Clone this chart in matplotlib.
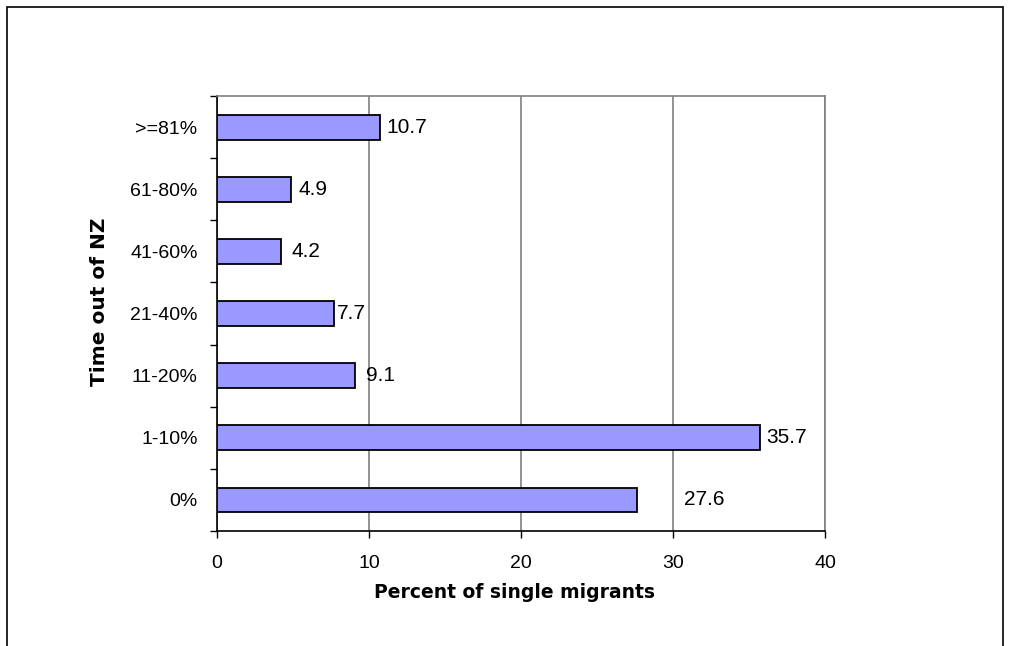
import matplotlib.pyplot as plt
from matplotlib.patches import Rectangle

categories = ["0%", "1-10%", "11-20%", "21-40%", "41-60%", "61-80%", ">=81%"]
percent_single = [27.6, 35.7, 9.1, 7.7, 4.2, 4.9, 10.7]
# extra gap (points) between bar end and its value label, as in the original
label_gap = [34, 5, 8, 2, 8, 5, 5]

plt.rcParams["font.family"] = ["Liberation Sans", "DejaVu Sans"]

fig = plt.figure(figsize=(10.1, 6.46), dpi=100)
ax = fig.add_axes([217 / 1010, 1 - 531 / 646, (825 - 217) / 1010, (531 - 96) / 646])

pos = list(range(len(categories)))
ax.barh(pos, percent_single, height=0.4, color="#9999FF", edgecolor="black", linewidth=1.3, zorder=3)

for p, v, g in zip(pos, percent_single, label_gap):
    ax.annotate(f"{v:.1f}", (v, p), xytext=(g, 0), textcoords="offset points",
                va="center", ha="left", fontsize=15)

ax.set_xlim(0, 40)
ax.set_ylim(-0.5, len(categories) - 0.5)
ax.set_xticks([0, 10, 20, 30, 40])
ax.tick_params(axis="x", labelsize=14, length=5, width=1, pad=12, direction="out")
ax.set_yticks(pos)
ax.set_yticklabels(categories)
ax.tick_params(axis="y", which="major", length=0, labelsize=14, pad=14)
ax.set_yticks([p - 0.5 for p in pos] + [len(pos) - 0.5], minor=True)
ax.tick_params(axis="y", which="minor", length=5, width=1, direction="out")

ax.grid(axis="x", color="#808080", linewidth=1.2, zorder=0)
for s in ["top", "right"]:
    ax.spines[s].set_color("#808080")
    ax.spines[s].set_linewidth(1.2)
for s in ["left", "bottom"]:
    ax.spines[s].set_linewidth(1.2)

ax.set_xlabel("Percent of single migrants", fontsize=13.5, fontweight="bold",
              family="DejaVu Sans", labelpad=8)
ax.xaxis.label.set_x(0.49)
ax.set_ylabel("Time out of NZ", fontsize=14.5, fontweight="bold",
              family="DejaVu Sans", labelpad=15)
ax.yaxis.label.set_y(0.526)

fig.patches.append(Rectangle((7 / 1010, -0.1), 996 / 1010, 1.1 - 7 / 646,
                             transform=fig.transFigure, fill=False, edgecolor="black", linewidth=1.2))

fig.savefig("out.png", dpi=100)
